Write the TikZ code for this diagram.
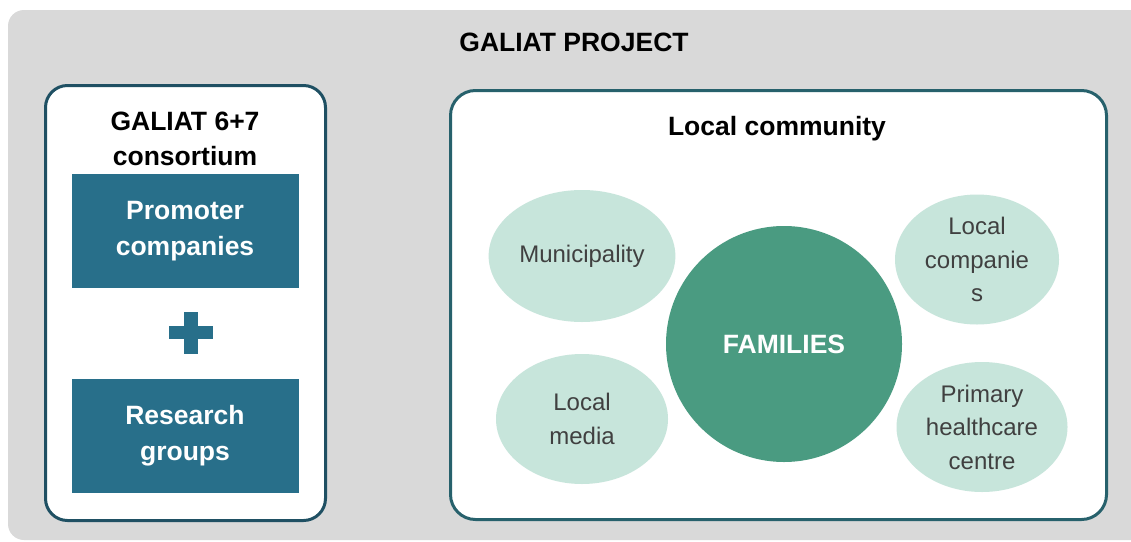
\documentclass[tikz,border=0pt]{standalone}
\usepackage{fontspec}
\setmainfont{Liberation Sans}
\usetikzlibrary{shapes.geometric}
\definecolor{bggrey}{HTML}{D9D9D9}
\definecolor{darkframe}{HTML}{1F5063}
\definecolor{tealframe}{HTML}{27616C}
\definecolor{boxblue}{HTML}{286F8A}
\definecolor{palemint}{HTML}{C7E5DB}
\definecolor{famgreen}{HTML}{4A9B81}
\definecolor{softgrey}{HTML}{404040}

\begin{document}
\begin{tikzpicture}[x=1pt,y=-1pt,
				panel/.style={rectangle,rounded corners=22pt,line width=3pt,fill=white,inner sep=0pt},
				bluebox/.style={rectangle,fill=boxblue,minimum width=227pt,minimum height=114pt,text=white,align=center,font=\fontsize{26.5}{36}\selectfont\bfseries},
				mintmode/.style={ellipse,fill=palemint,text=softgrey,align=center,font=\fontsize{24}{33.5}\selectfont},
				heading/.style={text=black,align=center,font=\fontsize{26.5}{35}\selectfont\bfseries}]

				\clip (0,0) rectangle (1131,541);
				\fill[bggrey,rounded corners=16pt] (8,10) rectangle (1160,540);

				\node (project) [heading] at (574,42) {GALIAT PROJECT};

				\node (consortium) [panel,draw=darkframe,minimum width=280pt,minimum height=435pt] at (185.5,303) {};
				\node (constitle) [heading] at (185,139) {GALIAT 6+7\\consortium};
				\node (promoter) [bluebox] at (185,231) {Promoter\\companies};
				\node (research) [bluebox,below of=promoter,node distance=205pt] {Research\\groups};
				\fill[boxblue] (169,326) rectangle (213,339);
				\fill[boxblue] (184,312) rectangle (198,354);

				\node (community) [panel,draw=tealframe,rounded corners=25pt,minimum width=656pt,minimum height=429pt] at (778.5,305) {};
				\node (commtitle) [heading] at (777,128.5) {Local community};

				\node (municip) [mintmode,minimum width=182pt,minimum height=132pt] at (582,256) {Municipality};
				\node (media) [mintmode,minimum width=172pt,minimum height=130pt,below of=municip,node distance=163pt] {Local\\media};
				\node (compan) [mintmode,minimum width=164pt,minimum height=130pt] at (977,259.5) {Local\\companie\\s};
				\node (health) [mintmode,minimum width=171pt,minimum height=130pt] at (982,427) {Primary\\healthcare\\centre};
				\node (families) [circle,fill=famgreen,minimum size=236pt,text=white,font=\fontsize{26.5}{30}\selectfont\bfseries] at (784,344) {FAMILIES};
			\end{tikzpicture}
\end{document}
